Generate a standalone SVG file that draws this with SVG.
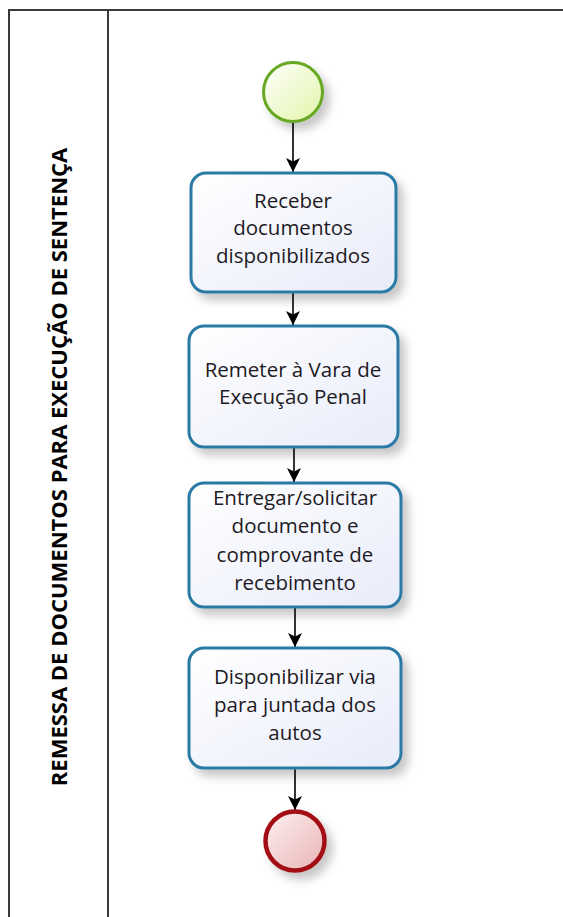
<svg xmlns="http://www.w3.org/2000/svg" width="563" height="917" viewBox="0 0 563 917">
<defs>
<style>
.task{fill:url(#tg);stroke:#2b7aa5;stroke-width:3;filter:url(#sh)}
.lbl{font-family:"Open Sans","Noto Sans",sans-serif;font-size:20.5px;fill:#1e1a24;text-anchor:middle}
.conn{stroke:#000;stroke-width:1.6;fill:none;marker-end:url(#ah)}
.pool{fill:none;stroke:#3a3a3a;stroke-width:2}
</style>
<linearGradient id="tg" x1="0" y1="0" x2="1" y2="1"><stop offset="0" stop-color="#ffffff"/><stop offset="1" stop-color="#e8ecfa"/></linearGradient>
<linearGradient id="sg" x1="0" y1="0" x2="1" y2="1"><stop offset="0" stop-color="#ffffff"/><stop offset="1" stop-color="#e2f5a8"/></linearGradient>
<linearGradient id="eg" x1="0" y1="0" x2="1" y2="1"><stop offset="0" stop-color="#fdf2f2"/><stop offset="1" stop-color="#e9b2b4"/></linearGradient>
<filter id="sh" x="-20%" y="-20%" width="150%" height="150%"><feDropShadow dx="6" dy="7" stdDeviation="5" flood-color="#000" flood-opacity="0.22"/></filter>
<marker id="ah" viewBox="0 0 14 14" refX="14" refY="7" markerWidth="14" markerHeight="14" markerUnits="userSpaceOnUse" orient="auto"><path d="M0,0 L14,7 L0,14 L3.5,7 Z" fill="#000"/></marker>
</defs>
<g id="pool">
<path class="pool" d="M9,918 V10 H564"/>
<line class="pool" x1="108" y1="10" x2="108" y2="918"/>
<text transform="translate(67,467) rotate(-90)" font-family="'Open Sans','Noto Sans',sans-serif" font-weight="bold" font-size="22" fill="#000" text-anchor="middle">REMESSA DE DOCUMENTOS PARA EXECUÇÃO DE SENTENÇA</text>
</g>
<g id="connectors">
<line class="conn" x1="293" y1="123" x2="293" y2="172"/>
<line class="conn" x1="293" y1="293" x2="293" y2="325"/>
<line class="conn" x1="294" y1="448" x2="294" y2="482"/>
<line class="conn" x1="295" y1="608" x2="295" y2="647"/>
<line class="conn" x1="295" y1="769" x2="295" y2="810"/>
</g>
<g id="start"><circle cx="293" cy="92" r="29.5" fill="url(#sg)" stroke="#67a822" stroke-width="3" filter="url(#sh)"/></g>
<g id="task1"><rect class="task" x="191" y="173" width="205" height="119" rx="15"/>
<text class="lbl"><tspan x="293" y="208">Receber</tspan><tspan x="293" y="235">documentos</tspan><tspan x="293" y="263">disponibilizados</tspan></text></g>
<g id="task2"><rect class="task" x="189" y="326" width="209" height="121" rx="15"/>
<text class="lbl"><tspan x="293" y="377">Remeter à Vara de</tspan><tspan x="293" y="404">Execução Penal</tspan></text></g>
<g id="task3"><rect class="task" x="189" y="483" width="212" height="124" rx="15"/>
<text class="lbl"><tspan x="295" y="505">Entregar/solicitar</tspan><tspan x="295" y="533">documento e</tspan><tspan x="295" y="562">comprovante de</tspan><tspan x="295" y="590">recebimento</tspan></text></g>
<g id="task4"><rect class="task" x="189" y="648" width="212" height="120" rx="15"/>
<text class="lbl"><tspan x="295" y="684">Disponibilizar via</tspan><tspan x="295" y="712">para juntada dos</tspan><tspan x="295" y="740">autos</tspan></text></g>
<g id="end"><circle cx="295" cy="841" r="29.5" fill="url(#eg)" stroke="#a30f14" stroke-width="4.5" filter="url(#sh)"/></g>
</svg>
